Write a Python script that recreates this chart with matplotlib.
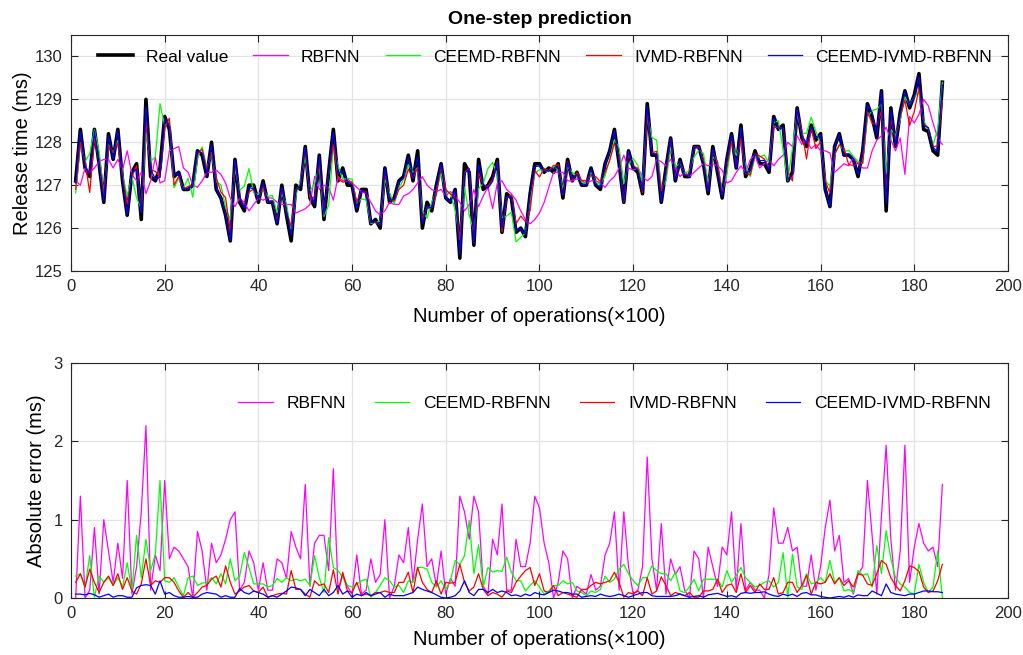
import numpy as np
import matplotlib
matplotlib.use("Agg")
import matplotlib.pyplot as plt

plt.rcParams['font.family'] = ['Liberation Sans', 'DejaVu Sans']

# operation index (x100)
x = np.arange(1, 187)

# real release time (ms)
real = [127.1, 128.3, 127.4, 127.2, 128.3, 127.5, 126.6, 128.2, 127.6, 128.3,
        127.1, 126.3, 127.3, 127.5, 126.2, 129.0, 127.2, 127.1, 127.4, 128.6,
        128.3, 127.2, 127.3, 126.9, 126.9, 127.0, 127.8, 127.7, 127.2, 128.0,
        126.9, 126.7, 126.3, 125.7, 127.6, 126.6, 126.4, 127.0, 127.0, 126.6,
        127.1, 126.6, 126.6, 126.1, 127.0, 126.3, 125.7, 127.0, 126.9, 127.9,
        126.7, 126.5, 127.7, 126.2, 127.3, 128.3, 127.1, 127.4, 127.0, 127.0,
        126.4, 126.9, 126.9, 126.1, 126.2, 126.0, 127.4, 126.6, 126.7, 127.1,
        127.2, 127.7, 127.1, 127.8, 126.0, 126.6, 126.4, 127.0, 127.5, 126.7,
        126.6, 126.9, 125.3, 127.5, 127.3, 125.6, 127.6, 126.9, 127.0, 127.2,
        127.6, 125.9, 126.8, 126.7, 125.9, 126.0, 125.8, 126.8, 127.5, 127.5,
        127.3, 127.4, 127.3, 127.5, 126.7, 127.6, 127.1, 127.3, 127.0, 127.0,
        127.4, 127.0, 126.9, 127.5, 127.8, 128.3, 127.5, 126.6, 127.8, 127.4,
        127.3, 126.8, 128.9, 127.7, 127.7, 126.6, 127.4, 128.1, 127.1, 127.6,
        127.2, 127.2, 127.9, 127.9, 127.5, 126.8, 127.9, 127.3, 126.7, 127.6,
        128.2, 127.4, 128.4, 127.2, 127.4, 127.8, 127.5, 127.5, 127.3, 128.6,
        128.3, 128.4, 127.1, 127.3, 128.8, 128.1, 127.9, 128.4, 128.05, 128.2,
        126.9, 126.5, 127.9, 128.2, 127.7, 127.7, 127.6, 127.2, 127.8, 128.9,
        128.6, 128.1, 129.2, 126.4, 128.8, 127.9, 128.7, 129.2, 128.8, 129.1,
        129.6, 128.3, 128.25, 127.8, 127.7, 129.4]

rbfnn = [127.1, 127.0, 127.4, 127.3, 127.4, 127.55, 127.6, 127.6, 127.4, 127.6,
         127.35, 127.8, 127.25, 127.1, 127.3, 126.8, 127.1, 127.65, 127.05, 127.1,
         127.8, 127.85, 127.9, 127.4, 127.3, 127.0, 126.95, 127.1, 127.3, 127.3,
         127.35, 127.25, 127.05, 126.7, 126.5, 126.7, 126.6, 126.4, 126.55, 126.7,
         126.65, 126.7, 126.7, 126.6, 126.55, 126.55, 126.55, 126.35, 126.4, 126.45,
         126.55, 127.2, 126.9, 127.0, 126.95, 126.65, 127.2, 127.1, 127.15, 127.05,
         126.95, 126.85, 126.8, 126.6, 126.4, 126.3, 126.4, 126.6, 126.55, 126.55,
         126.75, 126.8, 126.9, 127.05, 127.2, 127.0, 126.9, 126.85, 126.9, 126.75,
         126.85, 126.75, 126.6, 126.4, 126.55, 126.9, 126.5, 126.75, 126.95, 126.45,
         127.05, 127.1, 126.9, 126.8, 126.65, 126.4, 126.2, 126.1, 126.2, 126.35,
         126.6, 126.95, 127.3, 127.3, 127.3, 127.1, 127.1, 127.15, 127.1, 127.05,
         127.1, 127.1, 127.05, 126.95, 127.1, 127.2, 127.4, 127.7, 127.4, 127.35,
         127.4, 127.2, 127.1, 127.2, 127.6, 127.55, 127.45, 127.6, 127.4, 127.2,
         127.3, 127.2, 127.3, 127.4, 127.5, 127.45, 127.5, 127.45, 127.35, 127.05,
         127.1, 127.3, 127.45, 127.3, 127.6, 127.7, 127.4, 127.5, 127.6, 127.45,
         127.6, 127.7, 128.0, 127.9, 128.15, 127.95, 128.05, 127.85, 127.95, 127.8,
         127.8, 127.75, 127.3, 127.4, 127.5, 127.45, 127.65, 127.5, 127.4, 127.4,
         127.8, 128.05, 128.15, 128.35, 128.05, 127.8, 128.1, 127.25, 128.6, 128.45,
         128.65, 129.0, 128.85, 128.45, 128.1, 127.95]

ceemd = [126.82, 127.99, 127.54, 127.74, 128.29, 127.78, 126.8, 127.94, 127.76, 128.04,
         127.24, 126.75, 127.21, 126.7, 126.46, 128.25, 127.55, 127.66, 128.9, 128.38,
         128.5, 126.94, 127.16, 126.93, 127.16, 126.72, 127.64, 127.89, 127.4, 127.74,
         127.08, 127.01, 126.48, 126.2, 127.38, 126.88, 126.98, 127.39, 126.82, 126.78,
         126.92, 126.74, 126.76, 126.35, 126.8, 126.56, 125.92, 126.76, 127.12, 127.66,
         126.86, 127.04, 127.44, 126.27, 126.53, 127.91, 127.45, 127.14, 127.16, 127.14,
         126.58, 126.68, 126.66, 126.11, 126.13, 126.16, 127.14, 126.82, 126.56, 126.94,
         127.13, 127.48, 127.3, 127.41, 126.39, 126.23, 126.6, 126.86, 127.28, 126.81,
         126.82, 126.42, 125.73, 126.96, 126.31, 125.91, 126.92, 127.04, 127.39, 127.53,
         127.25, 126.24, 126.28, 126.37, 125.68, 125.78, 125.89, 126.64, 127.28, 127.36,
         127.35, 127.31, 127.46, 127.34, 126.92, 127.42, 127.3, 127.21, 127.07, 127.03,
         127.31, 127.07, 127.01, 127.22, 127.6, 128.06, 127.87, 127.03, 127.49, 127.62,
         127.46, 127.06, 128.64, 128.11, 128.05, 126.91, 127.09, 127.88, 127.43, 127.51,
         127.27, 127.34, 127.66, 127.81, 127.74, 127.04, 127.66, 127.54, 126.84, 127.25,
         128.0, 127.69, 128.01, 127.46, 127.2, 127.66, 127.66, 127.7, 127.52, 128.46,
         128.5, 127.82, 127.11, 127.86, 128.66, 128.21, 128.21, 128.58, 128.25, 127.94,
         127.1, 126.98, 127.7, 127.94, 127.79, 127.81, 127.67, 127.55, 127.51, 128.59,
         128.74, 128.77, 128.89, 127.26, 128.3, 128.16, 128.52, 129.06, 128.87, 129.05,
         129.17, 128.5, 128.32, 127.94, 128.3, 129.39]

ivmd = [126.9, 127.99, 127.54, 126.83, 128.1, 127.57, 126.8, 127.92, 127.76, 127.99,
        127.21, 126.56, 127.21, 127.45, 126.38, 128.5, 127.36, 127.32, 127.2, 128.34,
        128.56, 127.0, 127.21, 126.91, 126.97, 126.99, 127.73, 127.84, 127.36, 127.76,
        127.18, 126.84, 126.71, 125.9, 127.55, 126.69, 126.54, 126.84, 126.91, 126.67,
        126.96, 126.61, 126.63, 126.15, 126.94, 126.35, 126.05, 126.89, 127.01, 127.85,
        126.71, 126.72, 127.54, 126.38, 127.23, 127.94, 127.15, 127.07, 127.09, 127.07,
        126.6, 126.87, 126.85, 126.13, 126.13, 126.07, 127.31, 126.67, 126.63, 126.9,
        127.0, 127.37, 127.17, 127.41, 126.2, 126.49, 126.47, 126.78, 127.45, 126.9,
        126.79, 126.7, 125.73, 127.3, 127.39, 125.74, 127.29, 127.01, 126.97, 127.13,
        127.55, 125.91, 126.71, 126.77, 126.1, 126.28, 126.15, 126.41, 127.34, 127.19,
        127.39, 127.33, 127.46, 127.47, 126.77, 127.55, 127.13, 127.29, 127.11, 127.11,
        127.24, 127.2, 127.08, 127.3, 127.58, 127.97, 127.7, 126.61, 127.73, 127.45,
        127.39, 126.83, 128.64, 127.75, 127.79, 126.87, 127.24, 128.07, 127.17, 127.55,
        127.23, 127.27, 127.89, 127.89, 127.59, 126.89, 127.79, 127.54, 126.77, 127.44,
        128.02, 127.47, 128.09, 127.27, 127.24, 127.73, 127.68, 127.61, 127.41, 128.34,
        128.35, 128.33, 127.3, 127.1, 128.73, 128.26, 127.61, 128.35, 127.85, 128.02,
        127.1, 126.81, 127.72, 127.94, 127.86, 127.48, 127.46, 127.51, 127.51, 128.72,
        128.44, 128.41, 128.72, 126.83, 128.54, 128.06, 128.61, 128.98, 128.39, 128.71,
        129.26, 128.44, 128.32, 127.89, 127.92, 128.97]

ceemd_ivmd = [127.05, 128.25, 127.44, 127.26, 128.26, 127.51, 126.63, 128.15, 127.61, 128.27,
              127.13, 126.31, 127.29, 127.37, 126.36, 128.83, 127.36, 127.15, 127.18, 128.55,
              128.37, 127.23, 127.29, 126.91, 126.92, 126.99, 127.79, 127.75, 127.27, 127.94,
              126.95, 126.71, 126.33, 125.71, 127.59, 126.72, 126.47, 126.95, 126.91, 126.67,
              127.05, 126.61, 126.63, 126.11, 126.95, 126.39, 125.84, 126.87, 127.01, 127.87,
              126.81, 126.57, 127.67, 126.31, 127.27, 128.23, 127.26, 127.35, 127.09, 127.01,
              126.45, 126.87, 126.83, 126.13, 126.15, 126.07, 127.39, 126.65, 126.67, 127.07,
              127.17, 127.65, 127.17, 127.66, 126.11, 126.51, 126.47, 126.96, 127.49, 126.7,
              126.61, 126.87, 125.39, 127.28, 127.37, 125.63, 127.49, 127.01, 126.93, 127.09,
              127.53, 125.99, 126.73, 126.73, 125.94, 125.98, 125.85, 126.77, 127.43, 127.45,
              127.34, 127.33, 127.4, 127.41, 126.77, 127.53, 127.15, 127.25, 127.01, 127.02,
              127.37, 127.02, 126.95, 127.47, 127.78, 128.27, 127.55, 126.63, 127.79, 127.43,
              127.35, 126.87, 128.83, 127.73, 127.72, 126.62, 127.38, 128.08, 127.13, 127.55,
              127.23, 127.21, 127.88, 127.87, 127.51, 126.84, 127.85, 127.36, 126.74, 127.58,
              128.17, 127.41, 128.34, 127.27, 127.34, 127.73, 127.57, 127.58, 127.35, 128.57,
              128.32, 128.35, 127.13, 127.25, 128.78, 128.16, 127.97, 128.36, 128.09, 128.18,
              126.91, 126.5, 127.89, 128.18, 127.71, 127.73, 127.61, 127.24, 127.77, 128.87,
              128.69, 128.16, 129.17, 126.58, 128.73, 127.95, 128.66, 129.17, 128.85, 129.05,
              129.53, 128.39, 128.34, 127.88, 127.78, 129.33]

names = ['RBFNN', 'CEEMD-RBFNN', 'IVMD-RBFNN', 'CEEMD-IVMD-RBFNN']
colors = ['#ff00ff', '#00ff00', '#ff0000', '#0000ff']
preds = [rbfnn, ceemd, ivmd, ceemd_ivmd]

real_arr = np.array(real)
errors = [np.abs(np.array(p) - real_arr) for p in preds]

fig = plt.figure(figsize=(10.23, 6.55), dpi=100)
ax1 = fig.add_axes([0.0694, 0.5863, 0.9159, 0.3603])
ax2 = fig.add_axes([0.0694, 0.0870, 0.9159, 0.3588])


def style_axis(ax):
    ax.set_xlim(0, 200)
    ax.set_xticks(range(0, 201, 20))
    ax.grid(True, color='#e3e3e3', linewidth=0.9)
    ax.set_axisbelow(True)
    ax.tick_params(direction='in', top=True, right=True, labelsize=12,
                   length=5, width=0.8, colors='#262626', pad=6)
    for s in ax.spines.values():
        s.set_color('#262626')
        s.set_linewidth(0.8)


# top panel: predictions
ax1.plot(x, real, color='black', linewidth=2.6, label='Real value')
for p, c, n in zip(preds, colors, names):
    ax1.plot(x, p, color=c, linewidth=0.9, label=n)
style_axis(ax1)
ax1.set_ylim(125, 130.5)
ax1.set_yticks([125, 126, 127, 128, 129, 130])
ax1.set_xlabel('Number of operations(×100)', fontsize=14.5, labelpad=9)
ax1.set_ylabel('Release time (ms)', fontsize=14.5, labelpad=2)
ax1.set_title('One-step prediction', fontsize=14, fontweight='bold', pad=8)
ax1.legend(loc='center', bbox_to_anchor=(0.506, 0.907), ncol=5, frameon=False,
           fontsize=12.5, handlelength=2.0, handletextpad=0.75, columnspacing=1.45)

# bottom panel: absolute error
for e, c, n in zip(errors, colors, names):
    ax2.plot(x, e, color=c, linewidth=0.9, label=n)
style_axis(ax2)
ax2.set_ylim(0, 3)
ax2.set_yticks([0, 1, 2, 3])
ax2.set_xlabel('Number of operations(×100)', fontsize=14.5, labelpad=6)
ax2.set_ylabel('Absolute error (ms)', fontsize=14.5, labelpad=5)
ax2.legend(loc='center', bbox_to_anchor=(0.580, 0.826), ncol=4, frameon=False,
           fontsize=12.5, handlelength=2.0, handletextpad=0.8, columnspacing=1.65)

fig.savefig('out.png', dpi=100)
